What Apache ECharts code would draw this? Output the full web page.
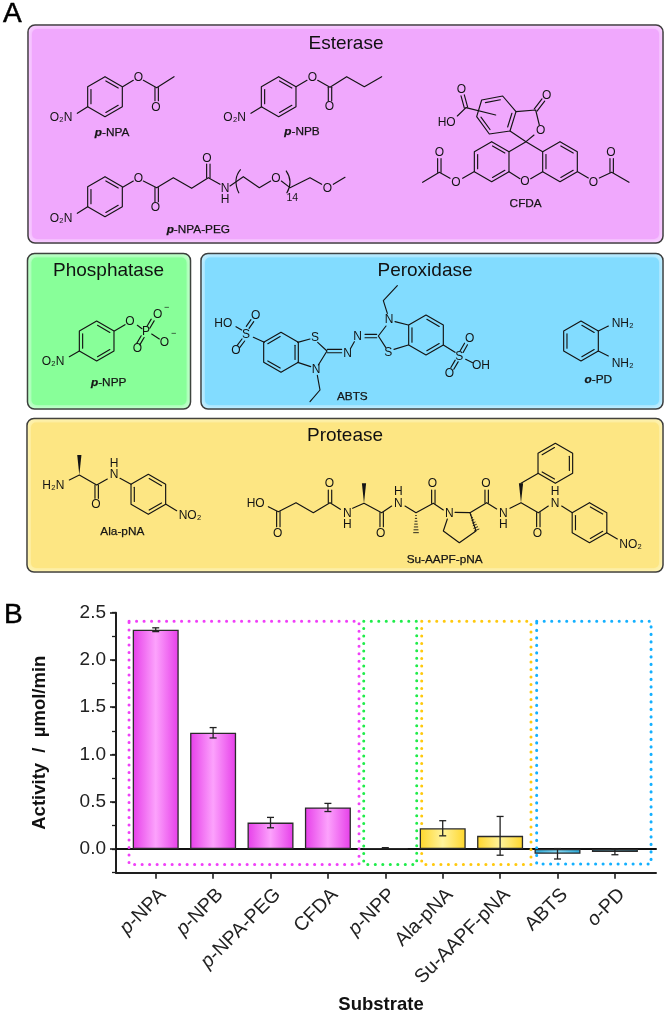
<!DOCTYPE html>
<html><head><meta charset="utf-8">
<style>html,body{margin:0;padding:0;background:#fff}#c{width:666px;height:1013px}</style>
<script src="https://cdn.jsdelivr.net/npm/echarts@6/dist/echarts.min.js"></script>
</head><body><div id="c"></div>
<script>
// ---------- chart data ----------
const categories = ['p-NPA','p-NPB','p-NPA-PEG','CFDA','p-NPP','Ala-pNA','Su-AAPF-pNA','ABTS','o-PD'];
const activity   = [2.32,1.23,0.28,0.44,0.01,0.22,0.14,-0.05,-0.03];
const errors     = [0.02,0.055,0.055,0.043,0.005,0.08,0.205,0.055,0.03];
const groupOf    = ['es','es','es','es','ph','pr','pr','po','po'];
const yMajorTicks = [0,0.5,1,1.5,2,2.5];
const xTickIndex  = [0,1,2,3,4,5,6,7,8];
// dotted boxes: [xFrom, xTo, yTo, yFrom, group]
const groupBoxes = [
  [-0.465,3.542,2.41,-0.162,'es'],
  [3.624,4.547,2.41,-0.162,'ph'],
  [4.634,6.538,2.41,-0.162,'pr'],
  [6.637,8.63,2.41,-0.157,'po']
];
const edgeColor = {es:'#e63ee9',ph:'#39e85a',pr:'#ffd62a',po:'#27a8d8'};
const midColor  = {es:'#fca2fc',ph:'#a0f8b0',pr:'#fff39c',po:'#84d8f4'};
const dotColor  = {es:'#f040f8',ph:'#1fec4a',pr:'#ffc90e',po:'#14b0ff'};

// ---------- panel A drawing helpers ----------
const FF = '"Liberation Sans", Arial, sans-serif';
const INK = '#141414';
const g = [];
let ox=0, oy=0, sc=3;
const at=(x,y,s)=>{ox=x;oy=y;sc=s||3;};
const P=(x,y)=>[ox+x/sc,oy+y/sc];
function rawLine(pts,w){g.push({type:'polyline',silent:true,shape:{points:pts},style:{stroke:INK,lineWidth:w||1.15,fill:null,lineCap:'round',lineJoin:'round'}});}
function L(){const a=[...arguments],p=[];for(let i=0;i<a.length;i+=2)p.push(P(a[i],a[i+1]));rawLine(p);}
function D(x1,y1,x2,y2,off){const a=P(x1,y1),b=P(x2,y2),dx=b[0]-a[0],dy=b[1]-a[1],l=Math.hypot(dx,dy),o=off||1.7,nx=-dy/l*o,ny=dx/l*o;
  rawLine([[a[0]+nx,a[1]+ny],[b[0]+nx,b[1]+ny]]);rawLine([[a[0]-nx,a[1]-ny],[b[0]-nx,b[1]-ny]]);}
function poly(pts,edges){const n=pts.length,c=[pts.reduce((s,p)=>s+p[0],0)/n,pts.reduce((s,p)=>s+p[1],0)/n];
  rawLine(pts.concat([pts[0]]));
  edges.forEach(i=>{const a=pts[i],b=pts[(i+1)%n],f=0.19;
    const ia=[a[0]+(c[0]-a[0])*f,a[1]+(c[1]-a[1])*f],ib=[b[0]+(c[0]-b[0])*f,b[1]+(c[1]-b[1])*f];
    rawLine([[ia[0]+(ib[0]-ia[0])*.06,ia[1]+(ib[1]-ia[1])*.06],[ib[0]-(ib[0]-ia[0])*.06,ib[1]-(ib[1]-ia[1])*.06]]);});}
function R(cx,cy,mode){const c=P(cx,cy),pts=[];for(let i=0;i<6;i++){const t=(-90+60*i)*Math.PI/180;pts.push([c[0]+20*Math.cos(t),c[1]+20*Math.sin(t)]);}
  poly(pts,mode==='A'?[0,2,4]:[1,3,5]);}
function Poly(list,edges){poly(list.map(p=>P(p[0],p[1])),edges);}
function T(s,x,y,size){const p=P(x,y);g.push({type:'text',silent:true,style:{text:s,x:p[0],y:p[1],align:'center',verticalAlign:'middle',fill:INK,font:(size||12)+'px '+FF}});}
function Name(s,x,y){const p=P(x,y);g.push({type:'text',silent:true,style:{text:s,x:p[0],y:p[1],align:'center',verticalAlign:'middle',fill:INK,stroke:INK,lineWidth:0.25,font:'11.8px '+FF,
  rich:{b:{fontStyle:'italic',fontWeight:'bold',fontSize:11.8,fontFamily:FF,fill:INK}}}});}
function Wedge(x1,y1,x2,y2){const a=P(x1,y1),b=P(x2,y2),dx=b[0]-a[0],dy=b[1]-a[1],l=Math.hypot(dx,dy),nx=-dy/l*2.1,ny=dx/l*2.1;
  g.push({type:'polygon',silent:true,shape:{points:[a,[b[0]+nx,b[1]+ny],[b[0]-nx,b[1]-ny]]},style:{fill:INK}});}
function Hash(x1,y1,x2,y2,n){const a=P(x1,y1),b=P(x2,y2),dx=b[0]-a[0],dy=b[1]-a[1],l=Math.hypot(dx,dy);
  for(let i=1;i<=n;i++){const f=i/n,w=2.4*f,cx=a[0]+dx*f,cy=a[1]+dy*f,nx=-dy/l*w,ny=dx/l*w;rawLine([[cx+nx,cy+ny],[cx-nx,cy-ny]],0.9);}}
function Paren(pts){g.push({type:'polyline',silent:true,shape:{points:pts.map(p=>P(p[0],p[1])),smooth:0.5},style:{stroke:INK,lineWidth:1.1,fill:null}});}
function panel(x,y,x2,y2,base,light,title,tx,ty){
  g.push({type:'rect',silent:true,shape:{x,y,width:x2-x,height:y2-y,r:7},style:{fill:light,stroke:'#3a3a3a',lineWidth:1.5}});
  g.push({type:'rect',silent:true,shape:{x:x+4,y:y+4,width:x2-x-8,height:y2-y-8,r:5},style:{fill:base,shadowBlur:5,shadowColor:base}});
  g.push({type:'text',silent:true,style:{text:title,x:tx,y:ty,align:'center',verticalAlign:'middle',fill:'#111',font:'19px '+FF}});
}
function Big(s,x,y){g.push({type:'text',silent:true,style:{text:s,x,y,align:'left',verticalAlign:'middle',fill:'#000',stroke:'#000',lineWidth:0.5,font:'28px '+FF}});}

Big('A',3,14); Big('B',4,615);
panel(28,25,663,243,'#f0a8fd','#f8cfff','Esterase',346,44);
panel(27.5,253.5,190.5,409,'#88ff99','#c4ffce','Phosphatase',108.5,271);
panel(201,253.5,663,409,'#82dcff','#c4eeff','Peroxidase',425,271);
panel(27,418.5,663,572,'#fde683','#fdf3b4','Protease',345,436);

// p-NPA
at(0,0);
R(315,290,'A'); L(263,320,232,340); T('O₂N',183,352);
L(368,260,400,241); T('O',415,233); L(430,241,470,263,522,230); D(470,263,470,302); T('O',468,323);
Name('{b|p}-NPA',336,397);
// p-NPB
R(836,290,'A'); L(785,320,753,340); T('O₂N',704,352);
L(888,260,921,241); T('O',937,232); L(953,241,990,262,1040,230,1093,260,1145,230); D(990,262,990,302); T('O',988,320);
Name('{b|p}-NPB',906,396);
// p-NPA-PEG
R(315,590,'A'); L(263,620,232,640); T('O₂N',183,655);
L(368,562,400,543); T('O',415,535); L(430,543,470,563,520,533,575,565,625,533,660,553); D(470,563,470,605); T('O',466,623);
D(625,533,625,492); T('O',621,475); T('N',675,565); T('H',675,600);
L(690,558,730,530,778,563,812,543); T('O',828,535); L(844,543,870,563,930,533,965,553); T('O',982,565); L(1000,553,1035,532);
Paren([[722,508],[708,540],[717,580]]); Paren([[858,512],[870,545],[860,580]]); T('14',877,595,10.5);
Name('{b|p}-NPA-PEG',595,690);
// CFDA
at(330,20);
R(485,425,'A'); R(690,425,'A');
L(537,395,588,365,638,395); L(537,455,570,476); L(602,476,638,455); T('O',585,485);
L(432,455,398,475); T('O',378,487); L(360,475,328,457,278,487); D(328,457,328,416); T('O',328,397);
L(743,455,775,474); T('O',790,487); L(808,474,845,457,897,487); D(845,457,845,416); T('O',843,397);
Poly([[455,240],[518,228],[558,275],[540,333],[478,342],[440,290]],[0,2,4]);
L(540,333,588,365,612,345); T('O',632,333); L(558,275,617,270,628,315); D(617,270,640,240); T('O',650,228);
L(408,263,497,285); L(408,263,382,288); D(408,263,398,226); T('O',394,208); T('HO',350,308);
Name('CFDA',587,552);
// p-NPP
at(20,250);
R(230,273,'A'); L(178,303,148,320); T('O₂N',99,336);
L(283,243,315,224); T('O',330,215); L(352,226,366,236); T('P',378,245); D(385,232,398,210); T('O',413,195); T('−',440,172,9);
L(395,252,418,267); T('O',433,277); T('−',461,252,9); D(368,260,355,282); T('O',352,297);
Name('{b|p}-NPP',266,397);
// ABTS left half
R(783,307,'B'); T('S',885,262); T('N',888,360);
L(833,277,870,267); L(833,337,872,350);
L(733,277,700,262); T('S',678,253); D(683,232,697,212); T('O',707,198); D(670,270,655,290); T('O',648,302); L(648,230,665,240); T('HO',610,222);
L(892,376,900,420,870,455); L(893,277,921,303,895,345);
// ABTS right half
at(320,250);
R(318,255,'A');
T('N',207,210); T('S',205,308); L(225,215,265,225); L(222,298,265,285); L(198,228,175,258,197,292);
D(135,258,170,258); T('N',113,260); L(103,275,92,295); T('N',83,312); D(22,303,65,303);
L(202,190,190,152,232,107);
L(370,285,405,307); T('S',418,320); D(425,305,438,282); T('O',449,265); D(410,333,397,355); T('O',388,370); L(437,328,458,338); T('OH',483,348);
Name('ABTS',97,440);
// o-PD
R(783,273,'A'); L(835,243,865,228); L(835,303,865,318); T('NH₂',908,220); T('NH₂',908,340);
Name('{b|o}-PD',835,390);
// Ala-pNA
at(20,415);
T('H₂N',100,212); L(148,195,178,180,230,210,262,192); Wedge(178,180,178,120); D(230,210,230,250); T('O',228,270); T('N',282,180); T('H',282,147);
L(300,190,333,208); R(385,238,'A'); L(438,268,470,287); T('NO₂',510,303);
Name('Ala-pNA',307,350);
// Su-AAPF-pNA
T('HO',707,266); L(745,275,775,290,828,263,880,293,930,263,961,283); D(775,290,775,335); T('O',773,355); D(930,263,930,225); T('O',928,207);
at(340,415);
T('N',22,295); T('H',22,330); L(38,280,72,265,125,293,155,273); Wedge(72,265,72,205);
D(125,293,125,335); T('O',122,355); T('N',175,265); T('H',175,230); L(195,273,228,293,280,265,310,285);
Hash(228,293,228,353,7); D(280,265,280,225); T('O',277,207); T('N',328,295);
L(345,292,390,293,408,348,358,383,310,348,322,312); Hash(390,293,410,345,7); L(390,293,440,263,470,282);
D(440,263,440,225); T('O',438,207); T('N',490,295); T('H',490,330);
L(510,280,543,263,595,293,625,273); Wedge(543,263,543,205); L(543,205,595,175);
R(646,145,'B'); D(595,293,595,335); T('O',592,355); T('N',645,265); T('H',645,230);
L(665,273,697,293); R(748.5,323,'A'); L(800,353,832,372); T('NO₂',872,388);
Name('Su-AAPF-pNA',314,434);

// ---------- chart ----------
const AXIS='#1e1e1e';
const fmtLabel = v => {const s=categories[v]; return /^[po]-/.test(s)?'{i|'+s[0]+'}'+s.slice(1):s;};
const bars = categories.map((c,i)=>({value:[i,activity[i]],itemStyle:{
  color:{type:'linear',x:0,y:0,x2:1,y2:0,colorStops:[{offset:0,color:edgeColor[groupOf[i]]},{offset:0.5,color:midColor[groupOf[i]]},{offset:1,color:edgeColor[groupOf[i]]}]}}}));
const chart = echarts.init(document.getElementById('c'));
chart.setOption({
  animation:false,
  backgroundColor:'#fff',
  grid:{left:116,top:612.7,width:540,height:260,containLabel:false,outerBoundsMode:'none'},
  xAxis:[{type:'value',min:-0.692,max:8.716,position:'bottom',splitLine:{show:false},
    axisLine:{onZero:false,lineStyle:{color:AXIS,width:2}},
    axisTick:{show:true,customValues:xTickIndex,length:6,lineStyle:{color:AXIS,width:1.6}},
    axisLabel:{show:true,customValues:xTickIndex,rotate:45,margin:12,align:'right',verticalAlign:'top',color:'#222',fontSize:19.5,fontFamily:FF,formatter:fmtLabel,
      rich:{i:{fontStyle:'italic',fontSize:19.5,fontFamily:FF,color:'#222'}}},
    name:'Substrate',nameLocation:'middle',nameGap:123,nameTextStyle:{fontSize:18.5,fontWeight:'bold',fontFamily:FF,color:'#111',padding:[0,10,0,0]}},
   {type:'value',min:-0.692,max:8.716,position:'bottom',splitLine:{show:false},
    axisLine:{show:true,onZero:true,lineStyle:{color:'#111',width:2}},axisTick:{show:false},axisLabel:{show:false}}],
  yAxis:[{type:'value',min:-0.25,max:2.5,position:'left',splitLine:{show:false},
    axisLine:{show:true,onZero:false,lineStyle:{color:AXIS,width:2}},
    axisTick:{show:true,customValues:yMajorTicks,length:6,lineStyle:{color:AXIS,width:1.6}},
    axisLabel:{show:true,customValues:yMajorTicks,margin:10,color:'#222',fontSize:19,fontFamily:FF,formatter:v=>v.toFixed(1)},
    name:'Activity  /  µmol/min',nameLocation:'middle',nameGap:67,nameRotate:90,nameTextStyle:{fontSize:18.5,fontWeight:'bold',fontFamily:FF,color:'#111'}},
   {type:'value',min:-0.25,max:2.5,interval:0.25,position:'left',splitLine:{show:false},
    axisLine:{show:false,onZero:false},axisTick:{show:true,length:4,lineStyle:{color:AXIS,width:1.3}},axisLabel:{show:false}}],
  graphic:{elements:g},
  series:[
    {type:'custom',z:1,silent:true,xAxisIndex:0,yAxisIndex:0,clip:false,data:groupBoxes.map(b=>b.slice(0,4).concat([Object.keys(dotColor).indexOf(b[4])])),
     encode:{x:[0,1],y:[2,3]},
     renderItem:(p,api)=>{const a=api.coord([api.value(0),api.value(2)]),b=api.coord([api.value(1),api.value(3)]);
       const key=Object.keys(dotColor)[api.value(4)];
       return {type:'rect',shape:{x:a[0],y:a[1],width:b[0]-a[0],height:b[1]-a[1]},
         style:{fill:null,stroke:dotColor[key],lineWidth:3,lineDash:[0.1,7.4],lineCap:'round'}};}},
    {type:'bar',z:3,silent:true,xAxisIndex:0,yAxisIndex:0,barWidth:46,data:bars,
     itemStyle:{borderColor:'#2a2a2a',borderWidth:1.3}},
    {type:'custom',z:4,silent:true,xAxisIndex:0,yAxisIndex:0,data:categories.map((c,i)=>[i,activity[i]-errors[i],activity[i]+errors[i]]),
     encode:{x:0,y:[1,2]},
     renderItem:(p,api)=>{const lo=api.coord([api.value(0),api.value(1)]),hi=api.coord([api.value(0),api.value(2)]);
       const st={stroke:'#222',lineWidth:1.3,fill:null};
       return {type:'group',children:[
         {type:'line',shape:{x1:lo[0],y1:lo[1],x2:hi[0],y2:hi[1]},style:st},
         {type:'line',shape:{x1:lo[0]-3.5,y1:lo[1],x2:lo[0]+3.5,y2:lo[1]},style:st},
         {type:'line',shape:{x1:hi[0]-3.5,y1:hi[1],x2:hi[0]+3.5,y2:hi[1]},style:st}]};}}
  ]
});
</script></body></html>
